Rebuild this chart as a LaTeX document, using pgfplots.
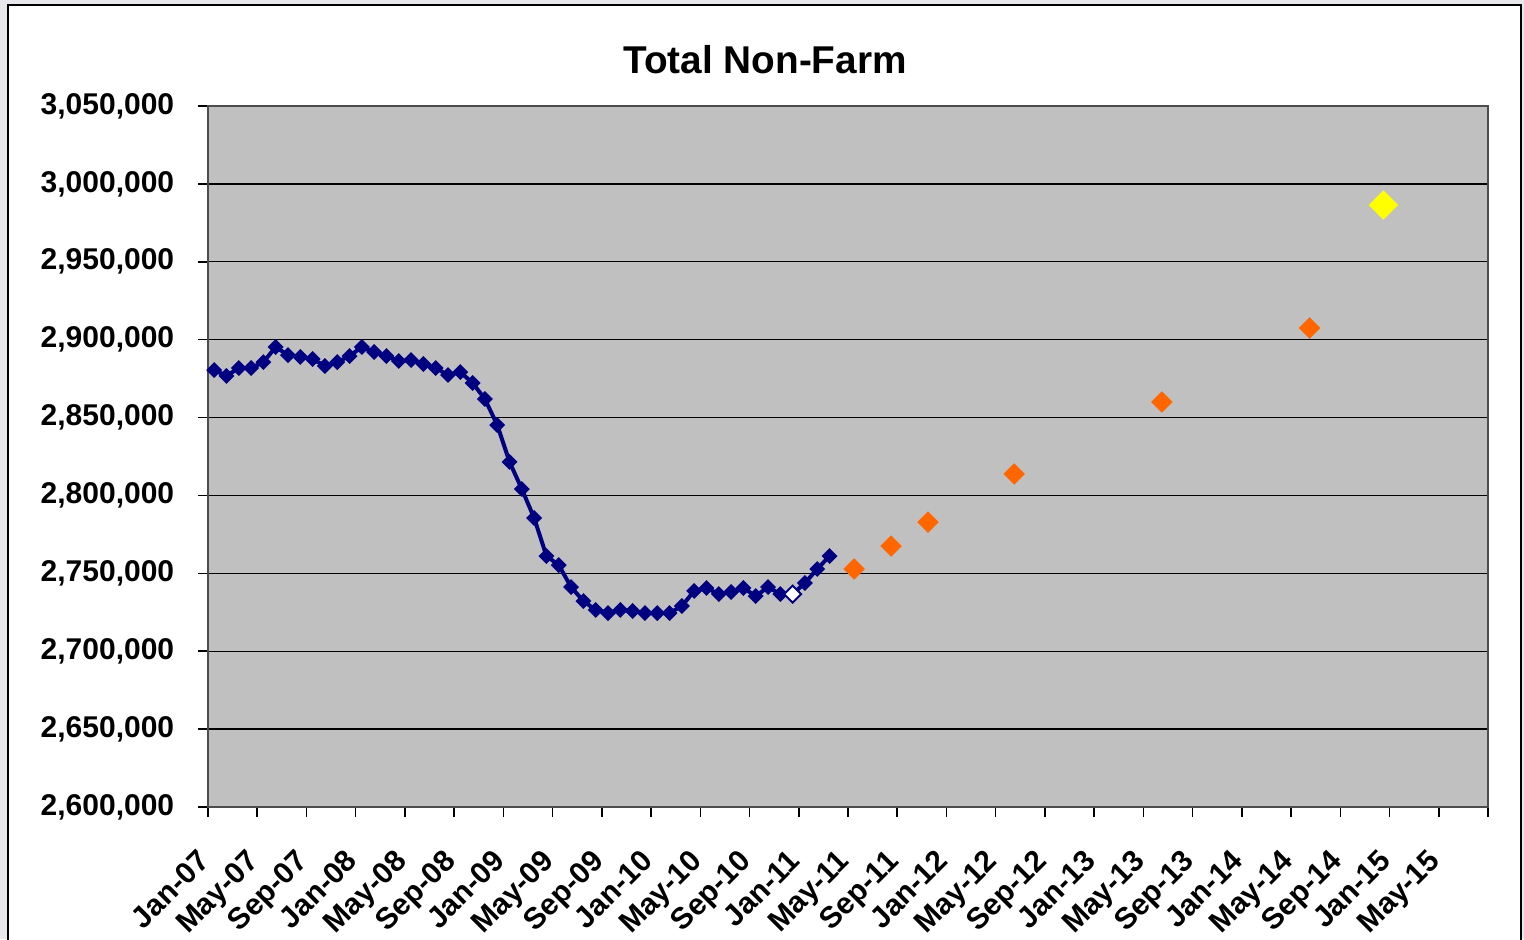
\documentclass[border=0pt]{standalone}
\usepackage{fontspec}
\setmainfont{Liberation Sans}
\usepackage{pgfplots}
\usepackage{pgfplotstable}
\pgfplotsset{compat=1.18}
\definecolor{navyline}{HTML}{000080}
\definecolor{plotbg}{HTML}{C0C0C0}
\definecolor{fcst}{HTML}{FF6600}
\definecolor{target}{HTML}{FFFF00}
\definecolor{outside}{RGB}{232,232,236}

% monthly actuals, x = month index from Jan-07 (+0.5, centred in the month)
\pgfplotstableread{
x y
0.5 2880500
1.5 2876700
2.5 2881800
3.5 2881800
4.5 2885600
5.5 2895300
6.5 2890100
7.5 2888900
8.5 2887600
9.5 2883100
10.5 2885600
11.5 2889500
12.5 2895300
13.5 2892100
14.5 2889500
15.5 2886300
16.5 2886900
17.5 2884400
18.5 2881800
19.5 2877300
20.5 2879200
21.5 2872200
22.5 2861900
23.5 2845200
24.5 2821500
25.5 2804100
26.5 2785500
27.5 2761100
28.5 2755300
29.5 2741200
30.5 2732200
31.5 2726500
32.5 2724500
33.5 2726500
34.5 2725800
35.5 2724500
36.5 2724500
37.5 2724500
38.5 2729000
39.5 2738700
40.5 2740600
41.5 2736700
42.5 2738000
43.5 2740600
44.5 2735400
45.5 2741200
46.5 2736700
47.5 2736700
48.5 2743800
49.5 2752800
50.5 2761100
}\actuals

\begin{document}
\begin{tikzpicture}
\clip (0,0) rectangle (609.6pt,375.6pt);
\fill[outside] (0,0) rectangle (609.6pt,375.6pt);
\draw[black, fill=white, line width=0.5pt] (3.2pt,-5pt) rectangle (608.4pt,373.6pt);
\node[font=\fontsize{15.5}{18}\selectfont\bfseries] at (306pt,351.6pt) {Total Non-Farm};
\begin{axis}[
  at={(83.2pt,52.8pt)}, anchor=south west,
  scale only axis, width=512pt, height=280.4pt,
  xmin=0, xmax=104, ymin=2600000, ymax=3050000,
  axis background/.style={fill=plotbg},
  axis line style={draw=gray!60!black, line width=0.6pt},
  xtick={0,4,...,104},
  xticklabels={Jan-07,May-07,Sep-07,Jan-08,May-08,Sep-08,Jan-09,May-09,Sep-09,Jan-10,May-10,Sep-10,Jan-11,May-11,Sep-11,Jan-12,May-12,Sep-12,Jan-13,May-13,Sep-13,Jan-14,May-14,Sep-14,Jan-15,May-15,{}},
  ytick={2600000,2650000,...,3050000},
  scaled y ticks=false,
  y tick label style={/pgf/number format/fixed, /pgf/number format/1000 sep={,}, /pgf/number format/assume math mode=true},
  tick label style={font=\fontsize{12}{14}\selectfont\bfseries},
  xticklabel style={rotate=45, anchor=north east, xshift=-8.6pt, yshift=-1.9pt},
  yticklabel style={xshift=-6pt},
  tick align=outside, major tick length=4pt,
  tick style={draw=black, line width=0.6pt},
  xtick pos=bottom, ytick pos=left,
  ymajorgrids, grid style={black, line width=0.5pt},
  clip=false,
]
\addplot[navyline, line width=1.6pt, mark=square*, mark size=1.45pt,
  mark options={rotate=45, solid}] table {\actuals};
\addplot[only marks, mark=square*, mark size=2.4pt,
  mark options={rotate=45, fill=white, draw=navyline, line width=0.8pt}]
  coordinates {(47.5,2736700)};
\addplot[only marks, mark=square*, mark size=2.83pt,
  mark options={rotate=45, fill=fcst, draw=fcst}]
  coordinates {(52.5,2752800) (55.5,2767500) (58.5,2782900) (65.5,2813800) (77.5,2860000) (89.5,2907500)};
\addplot[only marks, mark=square*, mark size=3.96pt,
  mark options={rotate=45, fill=target, draw=target}]
  coordinates {(95.5,2986400)};
\end{axis}
\end{tikzpicture}
\end{document}
